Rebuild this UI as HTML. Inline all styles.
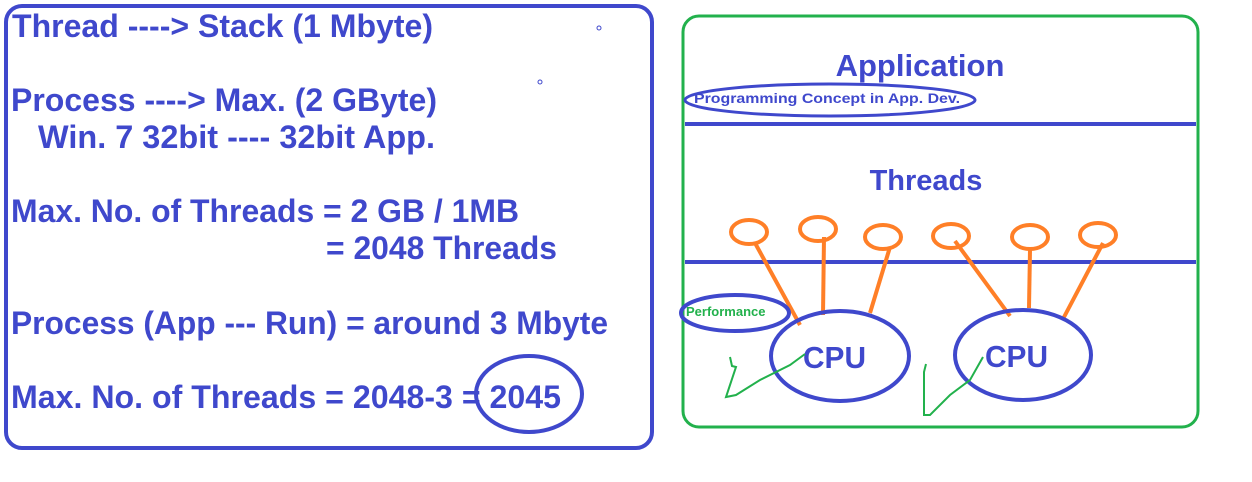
<!DOCTYPE html>
<html><head><style>body{margin:0;background:#fff}svg{display:block}</style></head>
<body>
<svg width="1252" height="482" xmlns="http://www.w3.org/2000/svg" font-family="Liberation Sans, Arial, sans-serif" font-weight="bold">
<rect x="6" y="6" width="646" height="442" rx="16" fill="none" stroke="#3f48cc" stroke-width="4"/>
<g fill="#3f48cc" font-size="32">
<text x="12" y="37" textLength="421" lengthAdjust="spacingAndGlyphs">Thread ----&gt; Stack (1 Mbyte)</text>
<text x="11" y="111" textLength="426" lengthAdjust="spacingAndGlyphs">Process ----&gt; Max. (2 GByte)</text>
<text x="38" y="148" textLength="397" lengthAdjust="spacingAndGlyphs">Win. 7 32bit ---- 32bit App.</text>
<text x="11" y="222" textLength="508" lengthAdjust="spacingAndGlyphs">Max. No. of Threads = 2 GB / 1MB</text>
<text x="326" y="259" textLength="231" lengthAdjust="spacingAndGlyphs">= 2048 Threads</text>
<text x="11" y="334" textLength="597" lengthAdjust="spacingAndGlyphs">Process (App --- Run) = around 3 Mbyte</text>
<text x="11" y="408" textLength="550" lengthAdjust="spacingAndGlyphs">Max. No. of Threads = 2048-3 = 2045</text>
</g>
<ellipse cx="529" cy="394" rx="53" ry="38" fill="none" stroke="#3f48cc" stroke-width="4"/>
<circle cx="599" cy="28" r="2" fill="none" stroke="#3f48cc"/>
<circle cx="540" cy="82" r="2" fill="none" stroke="#3f48cc"/>

<rect x="683" y="16" width="515" height="411" rx="16" fill="none" stroke="#22b14c" stroke-width="3"/>
<line x1="685" y1="124" x2="1196" y2="124" stroke="#3f48cc" stroke-width="4"/>
<line x1="685" y1="262" x2="1196" y2="262" stroke="#3f48cc" stroke-width="4"/>
<text x="920" y="76" font-size="31" fill="#3f48cc" text-anchor="middle">Application</text>
<ellipse cx="830" cy="100" rx="145" ry="16" fill="none" stroke="#3f48cc" stroke-width="3"/>
<text x="694" y="103" font-size="14" fill="#3f48cc" textLength="266" lengthAdjust="spacingAndGlyphs">Programming Concept in App. Dev.</text>
<text x="926" y="190" font-size="29" fill="#3f48cc" text-anchor="middle">Threads</text>
<g stroke="#ff7f27" stroke-width="4" fill="none">
<ellipse cx="749" cy="232" rx="18" ry="12"/>
<ellipse cx="818" cy="229" rx="18" ry="12"/>
<ellipse cx="883" cy="237" rx="18" ry="12"/>
<ellipse cx="951" cy="236" rx="18" ry="12"/>
<ellipse cx="1030" cy="237" rx="18" ry="12"/>
<ellipse cx="1098" cy="235" rx="18" ry="12"/>
<line x1="755" y1="243" x2="800" y2="325"/>
<line x1="824" y1="237" x2="823" y2="315"/>
<line x1="890" y1="247" x2="870" y2="313"/>
<line x1="955" y1="241" x2="1010" y2="316"/>
<line x1="1030" y1="250" x2="1029" y2="308"/>
<line x1="1103" y1="243" x2="1063" y2="319"/>
</g>
<g stroke="#3f48cc" stroke-width="4" fill="none">
<ellipse cx="840" cy="356" rx="69" ry="45"/>
<ellipse cx="1023" cy="355" rx="68" ry="45"/>
<ellipse cx="735" cy="313" rx="54" ry="18"/>
</g>
<text x="803" y="368" font-size="31" fill="#3f48cc" textLength="63" lengthAdjust="spacingAndGlyphs">CPU</text>
<text x="985" y="367" font-size="31" fill="#3f48cc" textLength="63" lengthAdjust="spacingAndGlyphs">CPU</text>
<text x="686" y="316" font-size="13" fill="#22b14c">Performance</text>
<g stroke="#22b14c" stroke-width="2" fill="none">
<path d="M730 357 L732 366 L736 367 L730 385 L726 397 L736 395 L760 380 L790 365 L805 354"/>
<path d="M926 364 L924 372 L924 415 L930 415 L950 395 L970 380 L983 357"/>
</g>
</svg>
</body></html>
